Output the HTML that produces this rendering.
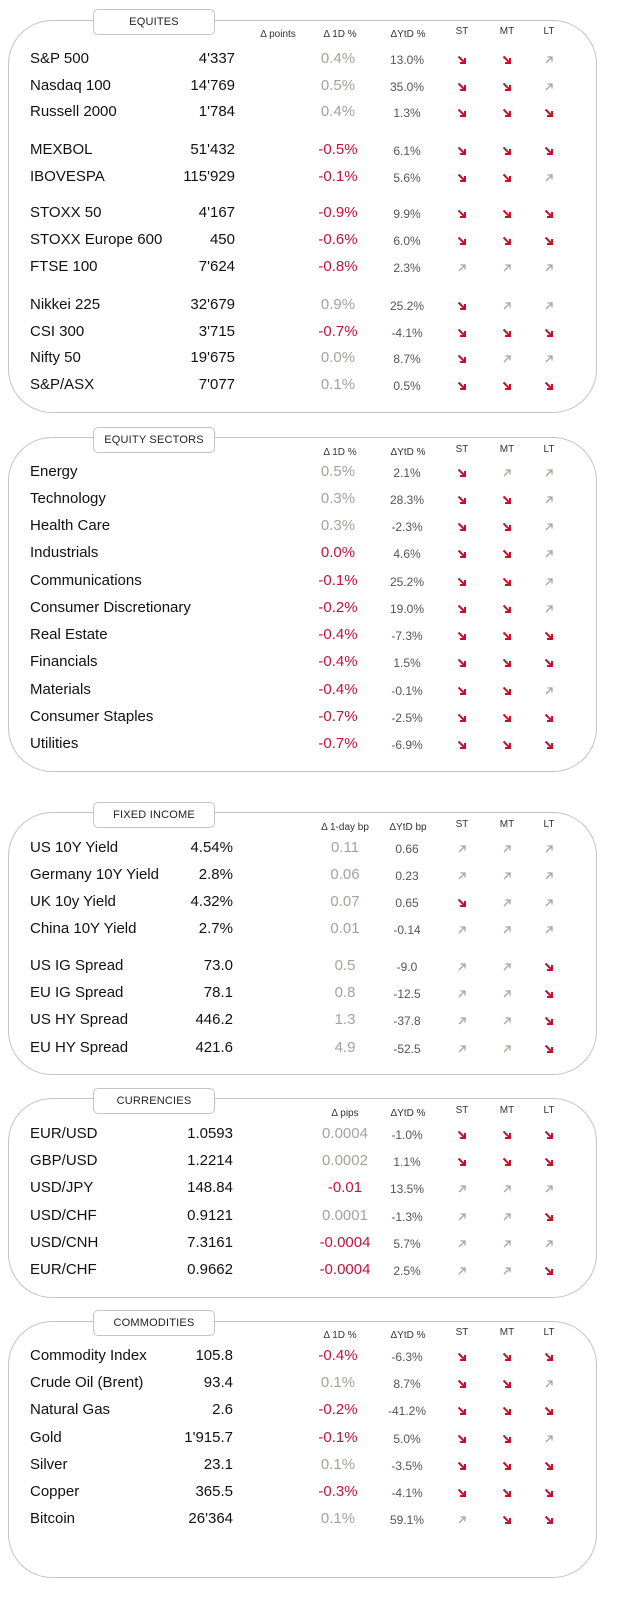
<!DOCTYPE html>
<html><head><meta charset="utf-8">
<style>
body{margin:0;width:619px;height:1611px;background:#fff;position:relative;font-family:"Liberation Sans",Arial,sans-serif;overflow:hidden}
.box{position:absolute;left:8px;width:589px;border:1px solid #c4c4c4;border-radius:44px;box-sizing:border-box}
.tab{position:absolute;left:93px;width:122px;height:26px;border:1px solid #c4c4c4;border-radius:5px;background:#fff;font-size:11px;color:#222;text-align:center;line-height:25px;box-sizing:border-box;letter-spacing:.2px}
.h{position:absolute;font-size:10px;color:#333;transform:translateX(-50%);white-space:nowrap}
.n{position:absolute;left:30px;font-size:15px;color:#111;white-space:nowrap}
.v{position:absolute;font-size:15px;color:#111;text-align:right;width:120px}
.d{position:absolute;font-size:15px;transform:translateX(-50%);white-space:nowrap}
.y{position:absolute;font-size:12px;color:#555;transform:translateX(-50%);white-space:nowrap}
.a{position:absolute;transform:translateX(-50%)}
</style></head><body>
<script>
const sections=[
{title:"EQUITES",top:20,bottom:413,tabTop:9,hdr:["Δ points","Δ 1D %","ΔYtD %"],hdrX:[278,340,408],valRight:235,
 rows:[["S&P 500","4'337","0.4%","13.0%","ddu",59],["Nasdaq 100","14'769","0.5%","35.0%","ddu",86],["Russell 2000","1'784","0.4%","1.3%","ddd",112],
 ["MEXBOL","51'432","-0.5%","6.1%","ddd",150],["IBOVESPA","115'929","-0.1%","5.6%","ddu",177],
 ["STOXX 50","4'167","-0.9%","9.9%","ddd",213],["STOXX Europe 600","450","-0.6%","6.0%","ddd",240],["FTSE 100","7'624","-0.8%","2.3%","uuu",267],
 ["Nikkei 225","32'679","0.9%","25.2%","duu",305],["CSI 300","3'715","-0.7%","-4.1%","ddd",332],["Nifty  50","19'675","0.0%","8.7%","duu",358],["S&P/ASX","7'077","0.1%","0.5%","ddd",385]]},
{title:"EQUITY  SECTORS",top:437,bottom:772,tabTop:427,hdr:["Δ 1D %","ΔYtD %"],hdrX:[340,408],valRight:235,
 rows:[["Energy","","0.5%","2.1%","duu",472],["Technology","","0.3%","28.3%","ddu",499],["Health Care","","0.3%","-2.3%","ddu",526],["Industrials","","0.0%","4.6%","ddu",553],
 ["Communications","","-0.1%","25.2%","ddu",581],["Consumer Discretionary","","-0.2%","19.0%","ddu",608],["Real Estate","","-0.4%","-7.3%","ddd",635],["Financials","","-0.4%","1.5%","ddd",662],
 ["Materials","","-0.4%","-0.1%","ddu",690],["Consumer Staples","","-0.7%","-2.5%","ddd",717],["Utilities","","-0.7%","-6.9%","ddd",744]]},
{title:"FIXED  INCOME",top:812,bottom:1075,tabTop:802,hdr:["Δ 1-day bp","ΔYtD bp"],hdrX:[345,408],valRight:233,
 rows:[["US 10Y Yield","4.54%","0.11","0.66","uuu",848],["Germany 10Y Yield","2.8%","0.06","0.23","uuu",875],["UK 10y Yield","4.32%","0.07","0.65","duu",902],["China 10Y Yield","2.7%","0.01","-0.14","uuu",929],
 ["US IG Spread","73.0","0.5","-9.0","uud",966],["EU IG Spread","78.1","0.8","-12.5","uud",993],["US HY Spread","446.2","1.3","-37.8","uud",1020],["EU HY Spread","421.6","4.9","-52.5","uud",1048]]},
{title:"CURRENCIES",top:1098,bottom:1298,tabTop:1088,hdr:["Δ pips","ΔYtD %"],hdrX:[345,408],valRight:233,
 rows:[["EUR/USD","1.0593","0.0004","-1.0%","ddd",1134],["GBP/USD","1.2214","0.0002","1.1%","ddd",1161],["USD/JPY","148.84","-0.01","13.5%","uuu",1188],
 ["USD/CHF","0.9121","0.0001","-1.3%","uud",1216],["USD/CNH","7.3161","-0.0004","5.7%","uuu",1243],["EUR/CHF","0.9662","-0.0004","2.5%","uud",1270]]},
{title:"COMMODITIES",top:1321,bottom:1578,tabTop:1310,hdr:["Δ 1D %","ΔYtD %"],hdrX:[340,408],valRight:233,
 rows:[["Commodity Index","105.8","-0.4%","-6.3%","ddd",1356],["Crude Oil (Brent)","93.4","0.1%","8.7%","ddu",1383],["Natural Gas","2.6","-0.2%","-41.2%","ddd",1410],
 ["Gold","1'915.7","-0.1%","5.0%","ddu",1438],["Silver","23.1","0.1%","-3.5%","ddd",1465],["Copper","365.5","-0.3%","-4.1%","ddd",1492],["Bitcoin","26'364","0.1%","59.1%","udd",1519]]}
];
const arrowX=[462,507,549];
function mk(cls,txt,css){const e=document.createElement('div');e.className=cls;if(txt!==undefined)e.textContent=txt;Object.assign(e.style,css);document.body.appendChild(e);return e;}
function arrow(dir,x,y){
 const s=document.createElementNS('http://www.w3.org/2000/svg','svg');
 s.setAttribute('width','10');s.setAttribute('height','10');
 
 
 s.style.position='absolute';s.style.left=(x-5)+'px';s.style.top=(y-5)+'px';
 const c=dir==='d'?'#c8102e':'#a9a39c';
 s.innerHTML=dir==='d'?`<path d="M1.5 1.5 L8 8 M8 3 L8 8 L3 8" stroke="${c}" stroke-width="${2}" fill="none"/>`:`<path d="M2 8 L8 2 M3.5 2 L8 2 L8 6.5" stroke="${c}" stroke-width="1.3" fill="none"/>`;
 document.body.appendChild(s);
}
sections.forEach(sec=>{
 const b=mk('box',undefined,{top:sec.top+'px',height:(sec.bottom-sec.top)+'px'});
 
 
 const t=mk('tab',sec.title,{top:sec.tabTop+'px'});
 
 
 const hy=sec.tabTop+17;
 sec.hdr.forEach((h,i)=>{const e=mk('h',h,{left:sec.hdrX[i]+'px',top:(hy+3)+'px'});
  
  });
 ['ST','MT','LT'].forEach((h,i)=>{const e=mk('h',h,{left:arrowX[i]+'px',top:(hy)+'px'});
  
  });
 sec.rows.forEach(r=>{
  const y=r[5];
  const n=mk('n',r[0],{top:(y-9)+'px'});
  
  
  if(r[1]){const v=mk('v',r[1],{left:(sec.valRight-120)+'px',top:(y-9)+'px'});
   
   }
  const neg=r[2].startsWith('-')||(sec.title==='EQUITY  SECTORS'&&r[2]==='0.0%');
  const d=mk('d',r[2],{left:(sec.title==='FIXED  INCOME'||sec.title==='CURRENCIES'?345:338)+'px',top:(y-9)+'px',color:neg?'#c0143c':'#a7a19b'});
  
  
  const yt=mk('y',r[3],{left:'407px',top:(y-6)+'px'});
  
  
  r[4].split('').forEach((c,i)=>arrow(c,arrowX[i],y+1));
 });
});
</script>
</body></html>
